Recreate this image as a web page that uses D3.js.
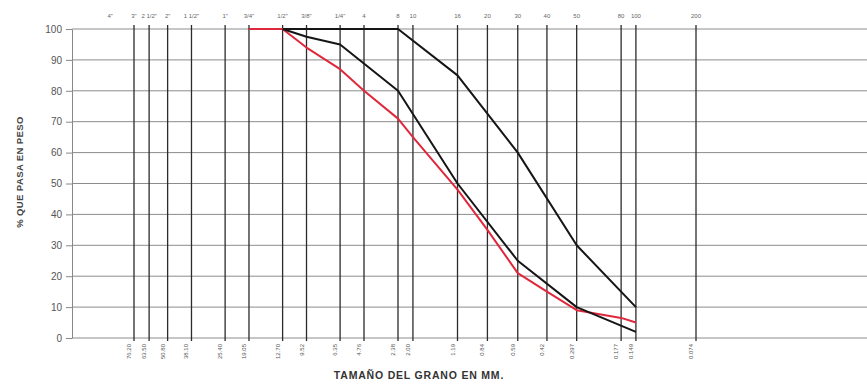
<!DOCTYPE html>
<html>
<head>
<meta charset="utf-8">
<script src="https://cdn.jsdelivr.net/npm/d3@7/dist/d3.min.js"></script>
<style>
  html, body { margin: 0; padding: 0; background: #fff; }
  svg { display: block; font-family: "Liberation Sans", Arial, sans-serif; }
</style>
</head>
<body>
<svg id="chart" width="867" height="390"></svg>
<script>
// Sieve series: designation (inches / ASTM number) and opening in mm
const sieveNames = ['4"', '3"', '2 1/2"', '2"', '1 1/2"', '1"', '3/4"', '1/2"', '3/8"', '1/4"',
                    '4', '8', '10', '16', '20', '30', '40', '50', '80', '100', '200'];
const sieveMm = [101.6, 76.2, 63.5, 50.8, 38.1, 25.4, 19.05, 12.7, 9.52, 6.35,
                 4.76, 2.38, 2.00, 1.19, 0.84, 0.59, 0.42, 0.297, 0.177, 0.149, 0.074];
// Opening labels printed under each ruled sieve line (the 4" sieve has no line)
const mmLabels = ['76.20', '63.50', '50.80', '38.10', '25.40', '19.05', '12.70', '9.52', '6.35',
                  '4.76', '2.38', '2.00', '1.19', '0.84', '0.59', '0.42', '0.297', '0.177', '0.149', '0.074'];

// Percent passing ticks
const yTicks = [0, 10, 20, 30, 40, 50, 60, 70, 80, 90, 100];

// Grading limits (upper / lower) and the tested sample
const upperMm   = [12.7, 9.52, 6.35, 4.76, 2.38, 1.19, 0.59, 0.297, 0.149];
const upperPass = [100, 100, 100, 100, 100, 85, 60, 30, 10];
const lowerMm   = [12.7, 9.52, 6.35, 2.38, 1.19, 0.59, 0.297, 0.149];
const lowerPass = [100, 97.5, 95, 80, 50, 25, 10, 2];
const sampleMm   = [19.05, 12.7, 9.52, 6.35, 4.76, 2.38, 2.00, 1.19, 0.84, 0.59, 0.42, 0.297, 0.177, 0.149];
const samplePass = [100, 100, 94, 87, 80, 71, 65, 48, 35, 21, 15, 9, 6.5, 5];

const svg = d3.select('#chart');
const W = 867;

// The grading paper uses a log scale with a break between the gravel and sand sieves
const gravelX = d3.scaleLog().domain([76.2, 4.76]).range([134, 364]);
const sandX   = d3.scaleLog().domain([2.38, 0.074]).range([398, 696]);
const x = mm => (mm > 3.5 ? gravelX(mm) : sandX(mm));
const y = d3.scaleLinear().domain([0, 100]).range([338, 29]);

const plotLeft = 72;

// Horizontal percent grid
svg.append('g')
  .selectAll('line')
  .data(yTicks)
  .join('line')
  .attr('x1', plotLeft).attr('x2', W)
  .attr('y1', d => y(d)).attr('y2', d => y(d))
  .attr('stroke', '#8c8c8c')
  .attr('stroke-width', 1);

// Percent axis
const yAxis = svg.append('g')
  .attr('transform', `translate(${plotLeft},0)`)
  .call(d3.axisLeft(y).tickValues(yTicks).tickSize(6).tickSizeOuter(0).tickPadding(4));
yAxis.select('.domain').attr('stroke', '#888');
yAxis.selectAll('.tick line').attr('stroke', '#888');
yAxis.selectAll('.tick text')
  .attr('fill', '#555')
  .style('font-size', '10px')
  .style('font-family', '"Liberation Sans", Arial, sans-serif');

// Ruled sieve lines (every sieve except the 4-inch one)
const ruled = sieveMm.slice(1);
svg.append('g')
  .selectAll('line')
  .data(ruled)
  .join('line')
  .attr('x1', d => x(d)).attr('x2', d => x(d))
  .attr('y1', 25).attr('y2', 341)
  .attr('stroke', '#2b2b2b')
  .attr('stroke-width', 1.3);

// Sieve designations across the top
svg.append('g')
  .selectAll('text')
  .data(sieveMm)
  .join('text')
  .attr('x', d => x(d))
  .attr('y', 18)
  .attr('text-anchor', 'middle')
  .attr('fill', '#666')
  .style('font-size', '6px')
  .text((d, i) => sieveNames[i]);

// Openings in mm along the bottom, set vertically
svg.append('g')
  .selectAll('text')
  .data(ruled)
  .join('text')
  .attr('transform', d => `translate(${x(d) - 3},344) rotate(-90)`)
  .attr('text-anchor', 'end')
  .attr('fill', '#555')
  .style('font-size', '6px')
  .text((d, i) => mmLabels[i]);

// Curves
const line = d3.line().x(d => x(d.mm)).y(d => y(d.p));
const zipSeries = (mm, p) => mm.map((m, i) => ({ mm: m, p: p[i] }));

svg.append('path')
  .datum(zipSeries(upperMm, upperPass))
  .attr('d', line)
  .attr('fill', 'none')
  .attr('stroke', '#151515')
  .attr('stroke-width', 2)
  .attr('stroke-linejoin', 'round');

svg.append('path')
  .datum(zipSeries(sampleMm, samplePass))
  .attr('d', line)
  .attr('fill', 'none')
  .attr('stroke', '#e0283c')
  .attr('stroke-width', 2)
  .attr('stroke-linejoin', 'round');

svg.append('path')
  .datum(zipSeries(lowerMm, lowerPass))
  .attr('d', line)
  .attr('fill', 'none')
  .attr('stroke', '#151515')
  .attr('stroke-width', 2)
  .attr('stroke-linejoin', 'round');

// Axis titles
svg.append('text')
  .attr('transform', 'translate(23,172) rotate(-90)')
  .attr('text-anchor', 'middle')
  .attr('fill', '#444')
  .style('font-size', '9.5px')
  .style('font-weight', 'bold')
  .style('letter-spacing', '0.4px')
  .text('% QUE PASA EN PESO');

svg.append('text')
  .attr('x', 419)
  .attr('y', 379)
  .attr('text-anchor', 'middle')
  .attr('fill', '#333')
  .style('font-size', '10.5px')
  .style('font-weight', 'bold')
  .style('letter-spacing', '0.8px')
  .text('TAMAÑO DEL GRANO EN MM.');
</script>
</body>
</html>
